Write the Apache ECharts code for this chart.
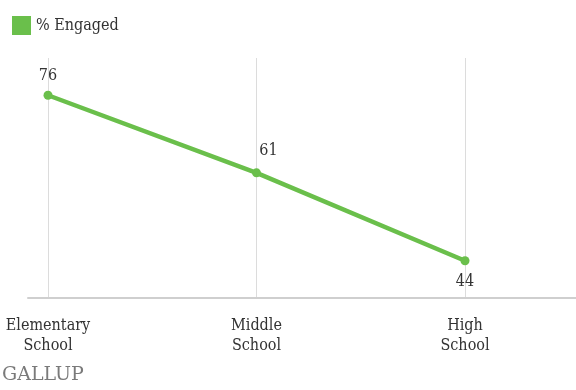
<!DOCTYPE html>
<html>
<head>
<meta charset="utf-8">
<script src="https://cdn.jsdelivr.net/npm/echarts@6/dist/echarts.min.js"></script>
<style>
  html, body { margin: 0; padding: 0; background: #fff; }
  #chart { width: 576px; height: 390px; }
</style>
</head>
<body>
<div id="chart"></div>
<script>
// Share of students engaged at school, by school level
const categories = ['Elementary\nSchool', 'Middle\nSchool', 'High\nSchool'];
const engaged = [76, 61, 44];
const seriesName = '% Engaged';

const serif = '"DejaVu Serif Condensed", "DejaVu Serif", Georgia, serif';
const green = '#6abf4b';

// Per-point label placement: above, above-right, below
const labelPlacement = [
  { position: 'top', offset: [0, -2] },
  { position: 'top', offset: [12, -4] },
  { position: 'bottom', offset: [0, 4] }
];

const chart = echarts.init(document.getElementById('chart'));
chart.setOption({
  animation: false,
  backgroundColor: '#fff',
  legend: {
    left: 7, top: 11,
    icon: 'rect', itemWidth: 19, itemHeight: 19, itemGap: 10,
    textStyle: { fontFamily: serif, fontSize: 16, color: '#333' },
    data: [seriesName]
  },
  graphic: [{
    type: 'text', left: 2, top: 366,
    style: { text: 'GALLUP', fontFamily: '"DejaVu Serif", Georgia, serif', fontSize: 19, fill: '#7a7a7a' }
  }],
  grid: [
    { left: 48, right: 111, top: 58, bottom: 92 },
    { left: 28, right: 0, top: 58, bottom: 92 }
  ],
  xAxis: [{
    type: 'category', gridIndex: 0, data: categories, boundaryGap: false,
    axisLine: { show: false }, axisTick: { show: false },
    axisLabel: { fontFamily: serif, fontSize: 16, color: '#333', margin: 18, lineHeight: 20 },
    splitLine: { show: true, lineStyle: { color: '#dcdcdc', width: 1 } }
  }, {
    type: 'value', gridIndex: 1, min: 0, max: 1,
    axisLine: { show: true, onZero: false, lineStyle: { color: '#cfcfcf', width: 2 } },
    axisTick: { show: false }, axisLabel: { show: false }, splitLine: { show: false }
  }],
  yAxis: [{
    type: 'value', gridIndex: 0, min: 36.8, max: 83.2, show: false,
    splitLine: { show: false }
  }, {
    type: 'value', gridIndex: 1, min: 0, max: 1, show: false
  }],
  series: [{
    name: seriesName, type: 'line', xAxisIndex: 0, yAxisIndex: 0,
    data: engaged.map((v, i) => ({ value: v, label: labelPlacement[i] })),
    itemStyle: { color: green },
    lineStyle: { color: green, width: 4.5 },
    symbol: 'circle', symbolSize: 9,
    label: {
      show: true, fontFamily: serif, fontSize: 16, color: '#333'
    }
  }]
});
</script>
</body>
</html>
